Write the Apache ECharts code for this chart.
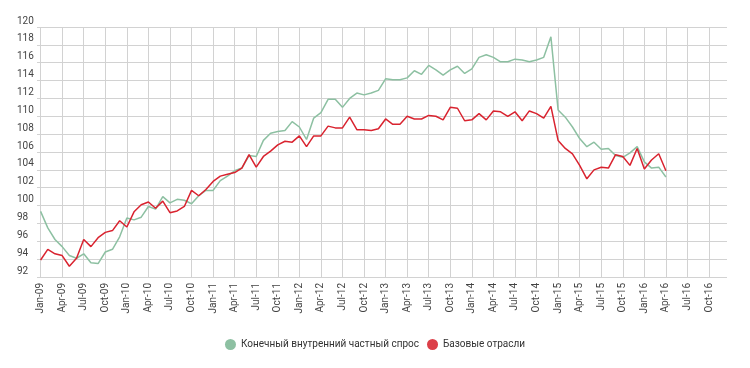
<!DOCTYPE html>
<html>
<head>
<meta charset="utf-8">
<script src="https://cdn.jsdelivr.net/npm/echarts@6/dist/echarts.min.js"></script>
<style>
html,body{margin:0;padding:0;background:#fff;}
#chart{width:750px;height:368px;}
</style>
</head>
<body>
<div id="chart"></div>
<script>
// Tick label parts
const monthNames = ['Jan','Feb','Mar','Apr','May','Jun','Jul','Aug','Sep','Oct','Nov','Dec'];
const years = ['09','10','11','12','13','14','15','16'];

// Series names
const seriesNames = ['Конечный внутренний частный спрос', 'Базовые отрасли'];

// Final domestic private demand (Jan-09 .. Apr-16)
const demand = [
  99.35, 97.5, 96.2, 95.4, 94.4, 94.1, 94.6, 93.6, 93.5, 94.8, 95.1, 96.5,
  98.6, 98.4, 98.7, 99.9, 99.6, 101.0, 100.3, 100.7, 100.6, 100.2, 101.1, 101.7,
  101.7, 102.8, 103.3, 103.9, 104.2, 105.6, 105.5, 107.3, 108.1, 108.3, 108.4, 109.4,
  108.8, 107.4, 109.8, 110.4, 111.9, 111.9, 111.0, 112.0, 112.6, 112.4, 112.6, 112.9,
  114.2, 114.1, 114.1, 114.3, 115.1, 114.7, 115.7, 115.2, 114.6, 115.2, 115.6, 114.8,
  115.3, 116.6, 116.9, 116.6, 116.1, 116.1, 116.4, 116.3, 116.1, 116.3, 116.6, 118.9,
  110.7, 109.9, 108.8, 107.5, 106.6, 107.1, 106.3, 106.4, 105.6, 105.4, 105.9, 106.6,
  104.9, 104.2, 104.3, 103.2
];

// Base industries (Jan-09 .. Apr-16)
const base = [
  93.9, 95.1, 94.6, 94.4, 93.2, 94.1, 96.2, 95.4, 96.4, 97.0, 97.2, 98.3,
  97.6, 99.3, 100.1, 100.4, 99.7, 100.5, 99.2, 99.4, 99.9, 101.7, 101.1, 101.8,
  102.7, 103.3, 103.5, 103.7, 104.2, 105.7, 104.3, 105.5, 106.1, 106.8, 107.2, 107.1,
  107.8, 106.6, 107.8, 107.8, 108.9, 108.7, 108.7, 109.9, 108.5, 108.5, 108.4, 108.6,
  109.7, 109.1, 109.1, 110.0, 109.7, 109.7, 110.1, 110.0, 109.6, 111.0, 110.9, 109.5,
  109.6, 110.3, 109.6, 110.6, 110.5, 110.0, 110.5, 109.5, 110.6, 110.3, 109.8, 111.1,
  107.3, 106.4, 105.8, 104.5, 103.0, 104.0, 104.3, 104.2, 105.7, 105.5, 104.5, 106.4,
  104.1, 105.1, 105.8, 103.9
];

const categories = [];
years.forEach(y => monthNames.forEach(m => categories.push(m + '-' + y)));

const chart = echarts.init(document.getElementById('chart'), null, {renderer: 'canvas'});
const green = '#8dc0a2';
const red = '#d9232f';
const font = 'Roboto, "Liberation Sans", sans-serif';

chart.setOption({
  animation: false,
  backgroundColor: '#ffffff',
  grid: {left: 37, right: 23, top: 27, bottom: 91, containLabel: false},
  legend: {
    bottom: 13,
    left: 'center',
    icon: 'circle',
    itemWidth: 11,
    itemHeight: 11,
    itemGap: 8,
    textStyle: {fontFamily: font, fontSize: 10, color: '#333'},
    data: [
      {name: seriesNames[0], itemStyle: {color: green}},
      {name: seriesNames[1], itemStyle: {color: '#dc3f48'}}
    ]
  },
  xAxis: {
    type: 'category',
    data: categories,
    boundaryGap: true,
    axisLine: {show: false},
    axisTick: {show: false, interval: 2, alignWithLabel: true},
    splitLine: {show: true, interval: 2, alignWithLabel: true, lineStyle: {color: '#d2d2d2', width: 1}},
    axisLabel: {interval: 2, rotate: 90, margin: 6, fontSize: 10, color: '#444', fontFamily: font}
  },
  yAxis: {
    type: 'value',
    min: 92,
    max: 120,
    interval: 2,
    axisLine: {show: false},
    axisTick: {show: false},
    splitLine: {show: true, lineStyle: {color: '#d2d2d2', width: 1}},
    axisLabel: {align: 'left', verticalAlign: 'bottom', margin: 20, fontSize: 10, color: '#444', fontFamily: font, padding: [0,0,1,0]}
  },
  series: [
    {name: seriesNames[0], type: 'line', data: demand, showSymbol: false, symbol: 'none',
     lineStyle: {color: green, width: 1.5}, itemStyle: {color: green}},
    {name: seriesNames[1], type: 'line', data: base, showSymbol: false, symbol: 'none',
     lineStyle: {color: red, width: 1.5}, itemStyle: {color: red}}
  ]
});
</script>
</body>
</html>
